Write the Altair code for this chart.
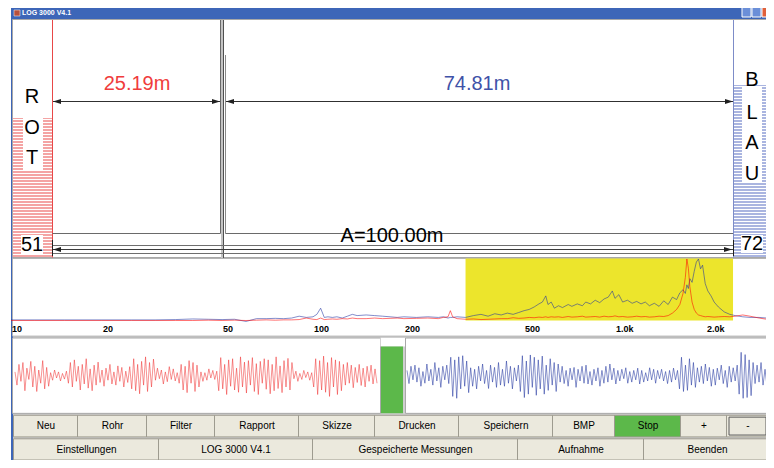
import altair as alt
import pandas as pd

# ---------------- values ----------------
window_title = "LOG 3000 V4.1"
left_distance = "25.19m"
right_distance = "74.81m"
total_distance = "A=100.00m"
left_word = ["R", "O", "T"]
right_word = ["B", "L", "A", "U"]
left_count = "51"
right_count = "72"

freq_hz = [10, 12, 15, 20, 25, 30, 35, 40, 45, 50,
           55, 60, 65, 70, 75, 80, 85, 90, 95, 100,
           103, 106, 109, 112, 116, 120, 125, 130, 135, 140,
           150, 160, 170, 180, 190, 200, 220, 240, 260, 270,
           280, 285, 290, 300, 320, 340, 360, 380, 400, 420,
           440, 460, 480, 500, 520, 540, 560, 575, 590, 600,
           615, 630, 650, 670, 700, 720, 750, 780, 800, 830,
           860, 890, 920, 950, 980, 1000, 1030, 1060, 1100, 1140,
           1180, 1220, 1260, 1300, 1350, 1400, 1450, 1500, 1550, 1600,
           1640, 1680, 1710, 1730, 1750, 1770, 1800, 1830, 1860, 1890,
           1920, 1950, 1990, 2030, 2080, 2130, 2200, 2300, 2400, 2500,
           2650, 2800, 3000, 3180]
spec_blue = [1, 1, 1, 1, 1, 1, 1.5, 2.5, 2, 1.5,
             2, -1.5, 3, 3, 3.5, 3, 4, 7, 5, 6,
             10, 20, 5, 6, 5, 6, 4, 7, 10, 8,
             9, 8, 7, 6, 5, 6, 5, 6, 5, 6,
             4, 5, 5, 6, 5, 8, 10, 7, 11, 9,
             12, 10, 13, 16, 18, 22, 27, 30, 40, 26,
             30, 20, 24, 21, 26, 23, 27, 24, 30, 27,
             33, 29, 35, 38, 48, 36, 42, 30, 33, 28,
             31, 27, 30, 24, 28, 23, 32, 26, 38, 34,
             45, 50, 44, 58, 52, 68, 62, 80, 95, 100,
             84, 90, 60, 48, 40, 30, 22, 14, 10, 8,
             6, 5, 5, 4]
spec_red = [0, 0, 0, 0, 0, 0, 0, 0, 0.5, 0,
            0.5, 0, 0.5, 1, 0.5, 1, 1, 1.5, 4, 2,
            1.5, 4, 1.5, 2, 2.5, 2, 3, 2.5, 4, 3,
            3, 4, 3, 3.5, 4, 3, 3.5, 4, 3, 5,
            6, 16, 6, 3, 2, 2.5, 1.5, 2, 2.5, 3,
            3, 4.5, 3.5, 4, 5, 4.5, 5.5, 5, 6, 5,
            6, 5.5, 6, 5, 6.5, 5.5, 6, 7, 5.5, 6,
            6.5, 5.5, 7, 6, 6.5, 7.5, 6, 6.5, 5.5, 6,
            7, 6, 6.5, 5.5, 6, 7, 6.5, 8, 12, 18,
            26, 44, 70, 100, 85, 55, 30, 18, 12, 9,
            8, 7, 6, 6.5, 6, 5.5, 6, 6.5, 6, 7,
            9, 7, 4, 2]
filter_band_hz = [320, 2460]
freq_ticks = [10, 20, 50, 100, 200, 500, 1000, 2000]
freq_tick_labels = ["10", "20", "50", "100", "200", "500", "1.0k", "2.0k"]

wave_red = [10, -25, 30, -15, 35, -40, 20, -10, 38, -30, 25, -42, 15, -20, 40, -35, 22, -28,
            8, -12, 15, -6, 10, -14, 6, -9, 12,
            -20, 35, -30, 42, -15, 25, -38, 30, -22, 45, -33, 18, -40, 28, -25, 36, -18,
            15, -28, 20, -12, 30, -22, 10, -25, 26, -15, 22, -30, 12, -18, 24,
            -35, 45, -40, 30, -48, 38, -25, 50, -42, 35, -30, 44,
            -12, 20, -8, 15, -22, 10, -16, 24, -10, 18, -14, 8, -20,
            30, -38, 25, -45, 40, -20, 35, -42, 28, -30,
            10, -15, 8, -12, 18, -6, 14, -10, 12,
            -40, 48, -35, 30, -50, 42, -28, 45, -38, 20, -44, 50, -30, 36, -46, 40, -25, 48, -42,
            32, -50, 38, -20, 45, -36, 42, -48, 30, -40, 50, -34, 26, -45, 40, -30, 46, -38, 35,
            -8, 12, -15, 6, -10, 14, -5, 10, -12, 8,
            -30, 45, -50, 40, -38, 52, -44, 35, -55, 48, -30, 42, -50, 38, -40,
            30, -25, 35, -20, 28, -32, 22, -18, 30, -26, 20, -30, 25, -15, 28, -22, 18, -20]
wave_blue = [14, -21, 25, -11, 28, -17, 21, -28, 11, -20, 31, -14,
             17, -25, 35, -14, 21, -31, 25, -11, 28, -21,
             49, -55, 42, -60, 50, -35, 53, -28, 39, -45,
             21, -28, 17, -35, 25, -14, 31, -21, 14, -34, 28, -17, 22, -31, 35, -25, 17, -28, 39,
             -20, 25, -35, 21, -14, 28,
             -42, 53, -58, 39, -49, 55, -31, 49, -52, 42, -35, 52, -49, 28, -39, 45, -25, 35, -42, 31,
             -17, 25, -21, 14, -28, 20, -11, 22, -31, 17, -14, 25, -20, 28, -22, 11, -25, 17, -14, 21,
             -28, 14, -20, 25, -17, 31, -11, 20, -22, 14,
             -14, 17, -8, 21, -20, 11, -17, 14, -11, 20, -22, 14, -17, 8, -14, 21, -11, 17, -20, 14,
             -8, 17, -14, 11, -21, 14, -17, 20, -11, 14,
             -35, 49, -42, 28, -39, 45, -25, 35, -31, 21,
             -17, 25, -21, 31, -14, 22, -28, 17, -25, 20, -11, 28, -21, 14, -31, 25, -17, 21, -14, 28,
             -49, 62, -60, 56, -58, 42, -53, 35,
             -21, 28, -17, 35, -25, 17, -28, 21]

buttons_row1 = ["Neu", "Rohr", "Filter", "Rapport", "Skizze", "Drucken",
                "Speichern", "BMP", "Stop", "+", "-"]
buttons_row2 = ["Einstellungen", "LOG 3000 V4.1", "Gespeicherte Messungen",
                "Aufnahme", "Beenden"]

# ---------------- layout (screen geometry of the window) ----------------
W, H = 758, 452
FONT = "Liberation Sans"


def X(v):
    return v - 8


def Y(v):
    return v - 8 if v <= 330 else 322 + (v - 330) * 130 / 138


UX = alt.Scale(domain=[0, 774], range=[X(0), X(774)], nice=False, zero=False)
UY = alt.Scale(domain=[0, 330, 468], range=[Y(0), Y(330), Y(468)], nice=False, zero=False)
FX = alt.Scale(type="log", domain=[10, 3261], range=[X(11), X(770)], nice=False)
AY = alt.Scale(domain=[0, 100], range=[Y(320.5), Y(259)], nice=False, zero=False)
WXR = alt.Scale(domain=[0, len(wave_red) - 1], range=[X(15), X(377)], nice=False, zero=False)
WXB = alt.Scale(domain=[0, len(wave_blue) - 1], range=[X(407), X(769)], nice=False, zero=False)
WY = alt.Scale(domain=[-50, 50], range=[Y(398.5), Y(358.5)], nice=False, zero=False)


def rect_layer(rows):
    df = pd.DataFrame(rows, columns=["x", "x2", "y", "y2", "fill", "stroke", "sw"])
    return alt.Chart(df).mark_rect().encode(
        x=alt.X("x:Q", scale=UX, axis=None), x2="x2",
        y=alt.Y("y:Q", scale=UY, axis=None), y2="y2",
        fill=alt.Fill("fill:N", scale=None),
        stroke=alt.Stroke("stroke:N", scale=None),
        strokeWidth=alt.StrokeWidth("sw:Q", scale=None),
    )


def rule_layer(rows):
    df = pd.DataFrame(rows, columns=["x", "x2", "y", "y2", "c", "sw"])
    return alt.Chart(df).mark_rule().encode(
        x=alt.X("x:Q", scale=UX, axis=None), x2="x2",
        y=alt.Y("y:Q", scale=UY, axis=None), y2="y2",
        color=alt.Color("c:N", scale=None),
        strokeWidth=alt.StrokeWidth("sw:Q", scale=None),
    )


def text_layer(rows, size, align="center", weight="normal"):
    df = pd.DataFrame(rows, columns=["x", "y", "t", "c"])
    return alt.Chart(df).mark_text(font=FONT, fontSize=size, align=align,
                                   baseline="middle", fontWeight=weight).encode(
        x=alt.X("x:Q", scale=UX, axis=None),
        y=alt.Y("y:Q", scale=UY, axis=None),
        text="t:N",
        color=alt.Color("c:N", scale=None),
    )


NONE = "transparent"
BTN = "#ebe9dd"
BTN_EDGE = "#9d9b8f"
BLUE_WIN = "#3d66b8"

# background, window frame, panels
back = [
    (11, 774, 5, 468, "#cfcfcf", NONE, 0),
    (11, 774, 5, 19, BLUE_WIN, NONE, 0),
    (11, 13, 5, 468, BLUE_WIN, NONE, 0),
    (14, 20, 10, 16, "#b8503c", "#ffffff", 0.5),
    (742, 751, 7, 17, "#6b8fd8", "#ffffff", 1),
    (752, 761, 7, 17, "#6b8fd8", "#ffffff", 1),
    (762, 772, 7, 17, "#e0603a", "#ffffff", 1),
    (12.5, 770.5, 19.5, 257.5, "#ffffff", "#a8a8a8", 1),
    (12.5, 770.5, 258.5, 336.5, "#ffffff", "#b4b4b4", 1),
    (12.5, 380.5, 338.5, 418.5, "#ffffff", "#a8a8a8", 1),
    (380.5, 405.5, 338.5, 347.5, "#ffffff", NONE, 0),
    (381, 403, 347.5, 418.5, "#5cb84a", NONE, 0),
    (405.5, 770.5, 338.5, 418.5, "#ffffff", "#a8a8a8", 1),
    (13, 52, 118, 257, "#f4a4a4", NONE, 0),
    (734, 769, 85, 257, "#aab5e0", NONE, 0),
    (221, 223, 20, 258, "#c4c4c4", NONE, 0),
]
edges1 = [13, 77, 146, 214, 298, 374, 458, 552, 614, 680, 726, 768]
edges2 = [13, 158, 312, 517, 643, 770]
for i, lab in enumerate(buttons_row1):
    fill = "#5cb84a" if lab == "Stop" else BTN
    back.append((edges1[i] + 0.5, edges1[i + 1] + 0.5, 420.5, 443.5, fill, BTN_EDGE, 1))
back.append((edges1[-2] + 3, edges1[-1] - 2, 422.5, 441.5, NONE, "#5a5a5a", 1))
for i, lab in enumerate(buttons_row2):
    back.append((edges2[i] + 0.5, edges2[i + 1] + 0.5, 445.5, 468, BTN, BTN_EDGE, 1))

# hatching of the two sensor columns
hatch = []
for k in range(47):
    yy = 119.5 + 3 * k
    if yy < 257:
        hatch.append((13, 52, yy, yy, "#ffffff", 1))
for k in range(58):
    yy = 86.5 + 3 * k
    if yy < 257:
        hatch.append((734, 769, yy, yy, "#ffffff", 1))

front = [
    (23, 43, 118, 170, "#ffffff", NONE, 0),
    (21, 43, 235, 255, "#ffffff", NONE, 0),
    (742, 762, 87, 183, "#ffffff", NONE, 0),
    (741, 763, 235, 253, "#ffffff", NONE, 0),
]

lines = [
    (52.5, 52.5, 20, 257.5, "#e84848", 1),
    (733.5, 733.5, 20, 257.5, "#7d8cc8", 1),
    (220.5, 220.5, 20, 233.5, "#6a6a6a", 1),
    (52.5, 220.5, 233.5, 233.5, "#6a6a6a", 1),
    (223.5, 223.5, 20, 258, "#505050", 1),
    (225.5, 225.5, 55, 233.5, "#8a8a8a", 1),
    (225.5, 733, 233.5, 233.5, "#6a6a6a", 1),
    (53, 220, 101.5, 101.5, "#303030", 1),
    (226, 733, 101.5, 101.5, "#303030", 1),
    (52.5, 733, 245.5, 245.5, "#6e6e6e", 1),
    (52.5, 733, 249.5, 249.5, "#3c3c3c", 1),
    (52.5, 733, 253.5, 253.5, "#6e6e6e", 1),
    (52.5, 52.5, 240, 256, "#202020", 1),
    (733.5, 733.5, 240, 256, "#202020", 1),
]

LEFT_ARROW = "M-1,0L1,-0.65L1,0.65Z"
RIGHT_ARROW = "M1,0L-1,-0.65L-1,0.65Z"
arrows = pd.DataFrame([
    (57, 101.5, LEFT_ARROW), (216, 101.5, RIGHT_ARROW),
    (230, 101.5, LEFT_ARROW), (729, 101.5, RIGHT_ARROW),
    (57, 249.5, LEFT_ARROW), (728, 249.5, RIGHT_ARROW),
], columns=["x", "y", "s"])
arrow_layer = alt.Chart(arrows).mark_point(filled=True, opacity=1, strokeWidth=0).encode(
    x=alt.X("x:Q", scale=UX, axis=None),
    y=alt.Y("y:Q", scale=UY, axis=None),
    shape=alt.Shape("s:N", scale=None),
    size=alt.value(64),
    color=alt.value("#202020"),
)

# spectrum
band = pd.DataFrame({"f1": [filter_band_hz[0]], "f2": [filter_band_hz[1]],
                     "y1": [258.5], "y2": [320.5]})
band_layer = alt.Chart(band).mark_rect(color="#ece52c").encode(
    x=alt.X("f1:Q", scale=FX, axis=None), x2="f2",
    y=alt.Y("y1:Q", scale=UY, axis=None), y2="y2",
)
spec = pd.DataFrame({"f": freq_hz, "red": spec_red, "blue": spec_blue})
spec_blue_layer = alt.Chart(spec).mark_line(color="#1e2fa0", strokeWidth=1, opacity=0.55).encode(
    x=alt.X("f:Q", scale=FX, axis=None), y=alt.Y("blue:Q", scale=AY, axis=None))
spec_red_layer = alt.Chart(spec).mark_line(color="#ff0000", strokeWidth=1, opacity=0.55).encode(
    x=alt.X("f:Q", scale=FX, axis=None), y=alt.Y("red:Q", scale=AY, axis=None))
ticks = pd.DataFrame({"f": freq_ticks, "t": freq_tick_labels, "y": [329] * len(freq_ticks)})
tick_layer = alt.Chart(ticks).mark_text(font=FONT, fontSize=9, fontWeight="bold", align="left",
                                        baseline="middle", color="#000000", dx=1).encode(
    x=alt.X("f:Q", scale=FX, axis=None), y=alt.Y("y:Q", scale=UY, axis=None), text="t:N")

# waveforms
wr = pd.DataFrame({"i": list(range(len(wave_red))), "v": wave_red})
wb = pd.DataFrame({"i": list(range(len(wave_blue))), "v": wave_blue})
wave_red_layer = alt.Chart(wr).mark_line(color="#f02828", strokeWidth=1, opacity=0.5).encode(
    x=alt.X("i:Q", scale=WXR, axis=None), y=alt.Y("v:Q", scale=WY, axis=None))
wave_blue_layer = alt.Chart(wb).mark_line(color="#2236a0", strokeWidth=1, opacity=0.55).encode(
    x=alt.X("i:Q", scale=WXB, axis=None), y=alt.Y("v:Q", scale=WY, axis=None))

# texts
big = [(137, 84, left_distance, "#f03c3c"), (477, 84, right_distance, "#3f52a8"),
       (392, 236, total_distance, "#000000"),
       (32, 245, left_count, "#000000"), (752, 244, right_count, "#000000")]
for t, yy in zip(left_word, [97, 128, 158]):
    big.append((32, yy, t, "#000000"))
for t, yy in zip(right_word, [80, 113, 143, 174]):
    big.append((752, yy, t, "#000000"))

btn_text = []
for i, lab in enumerate(buttons_row1):
    btn_text.append(((edges1[i] + edges1[i + 1]) / 2 + 1, 432, lab, "#000000"))
for i, lab in enumerate(buttons_row2):
    btn_text.append(((edges2[i] + edges2[i + 1]) / 2 + 1, 457.5, lab, "#000000"))

layers = [
    rect_layer(back),
    rule_layer(hatch),
    rect_layer(front),
    band_layer,
    rule_layer(lines),
    arrow_layer,
    spec_blue_layer,
    spec_red_layer,
    tick_layer,
    wave_red_layer,
    wave_blue_layer,
    text_layer(big, 20),
    text_layer(btn_text, 10),
    text_layer([(22, 12.5, window_title, "#ffffff")], 7, align="left", weight="bold"),
]

chart = alt.layer(*layers).resolve_scale(
    x="independent", y="independent"
).properties(
    width=W, height=H, padding=0, background="white",
    autosize=alt.AutoSizeParams(type="none"),
).configure_view(strokeWidth=0)

chart.save("out.html", embed_options={"renderer": "svg", "actions": False})
